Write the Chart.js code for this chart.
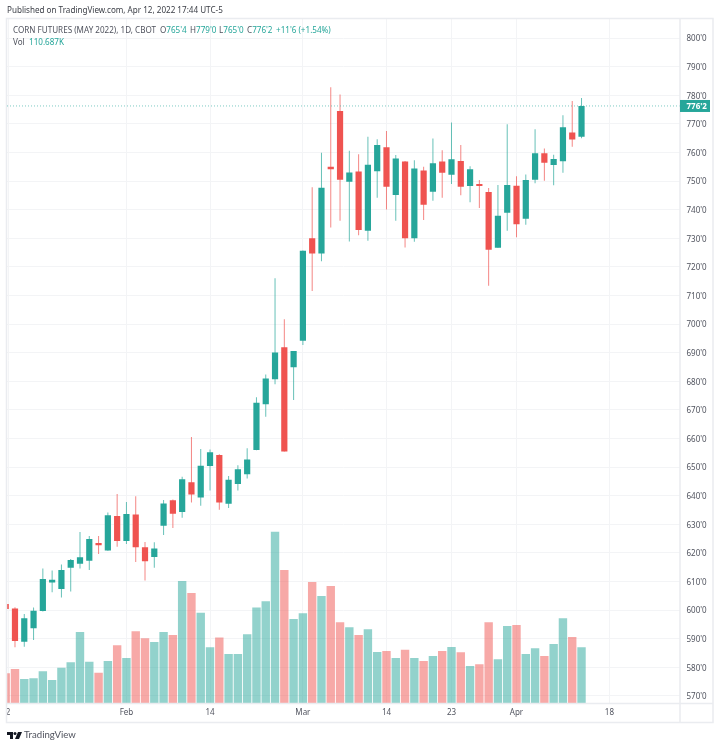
<!DOCTYPE html>
<html>
<head>
<meta charset="utf-8">
<title>Corn Futures (May 2022)</title>
<script src="https://cdn.jsdelivr.net/npm/chart.js@4/dist/chart.umd.min.js"></script>
<style>
    html, body { margin: 0; padding: 0; background: #fff; }
    body { width: 720px; height: 747px; position: relative; overflow: hidden; font-family: "Noto Sans", sans-serif; color: #50535e; }
    canvas { position: absolute; left: 0; top: 0; }
    .txt { position: absolute; white-space: nowrap; font-size: 8.1px; line-height: 12px; }
    .up { color: #26a69a; }
</style>
</head>
<body>
<canvas id="chart" width="720" height="747"></canvas>
<div class="txt" style="left:7px;top:4px;color:#3d4048">Published on TradingView.com, Apr 12, 2022 17:44 UTC-5</div>
<div class="txt" style="left:13px;top:24px">CORN FUTURES (MAY 2022), 1D, CBOT</div>
<div class="txt" style="left:160px;top:24px">O<span class="up" id="lastO"></span></div>
<div class="txt" style="left:190px;top:24px">H<span class="up" id="lastH"></span></div>
<div class="txt" style="left:219px;top:24px">L<span class="up" id="lastL"></span></div>
<div class="txt" style="left:247px;top:24px">C<span class="up" id="lastC"></span></div>
<div class="txt up" style="left:276px;top:24px">+11'6 (+1.54%)</div>
<div class="txt" style="left:13px;top:36px">Vol</div>
<div class="txt up" style="left:29px;top:36px">110.687K</div>
<svg style="position:absolute;left:7px;top:732px" width="15" height="7" viewBox="0 0 15 7">
    <path d="M0 0H6V7H3V3H0Z M11 0H15L12 7H8Z" fill="#131722"/>
    <circle cx="8" cy="1.6" r="1.5" fill="#131722"/>
</svg>
<div class="txt" style="left:24px;top:729px;font-family:Lato,sans-serif;font-size:9.6px;color:#50535e">TradingView</div>

<script>
// DATA
// -----------------------------------------------------------------------------
var opens = [602.2, 600.6, 589, 593.7, 599.7, 609.7, 607.4, 614.8, 616.2, 617.3, 623.5,
    620.9, 632.9, 624.2, 633.4, 622, 618.6, 629.5, 638.4, 634.3, 644.7, 639.4,
    650.4, 654.2, 637.2, 644.1, 647.5, 656, 672, 680.7, 691.9, 684.9, 694.2,
    730, 724.7, 755, 774.5, 749.8, 753.3, 732.6, 753.4, 761.8, 745.1, 756.8,
    730, 753.7, 746.3, 756.8, 752.2, 757, 748.3, 749, 746.2, 726.7, 738.9,
    748.4, 736.8, 750.5, 759.7, 755.6, 756.9, 767, 765.5];
var highs = [602.6, 601, 598.7, 600.9, 614.6, 613.9, 616, 617.9, 627.3, 625.9, 625.9,
    634.1, 640.6, 637.8, 639.8, 623.8, 623.7, 638.5, 638.7, 646.6, 660.5, 656.3,
    656.2, 654.5, 646.9, 650.7, 656.6, 674.4, 682.4, 716, 701.7, 690.6, 725.7,
    747.8, 759.9, 782.8, 780.3, 760.6, 759.4, 765.5, 764.6, 767.5, 759.1, 757,
    757.3, 755, 764.9, 760.8, 770.5, 762.6, 755.2, 750.4, 747.6, 748.6, 769.9,
    751.7, 752.3, 768.1, 761.4, 759.2, 773, 778, 779];
var lows = [600.2, 587, 587.2, 589.6, 599.5, 606.3, 604.4, 606.5, 614.6, 614, 619.6,
    620.8, 622.2, 623.1, 616.8, 610.4, 614.8, 626.3, 628.7, 632.3, 637.6, 636.5,
    641.8, 635.1, 635.7, 641.8, 646, 655.9, 667.6, 679, 655.5, 673.5, 692.7,
    711.6, 722, 733.8, 736.1, 728.9, 731.1, 729.1, 744.2, 740.1, 736.1, 726.8,
    728.8, 736.4, 743.1, 744.2, 749, 745, 742.6, 740.6, 713.4, 726.7, 732.6,
    730.4, 734.7, 749.2, 750.1, 748.5, 752.9, 762, 765];
var closes = [600.4, 589.2, 597.2, 599.8, 610.9, 610.6, 614, 617.5, 618.5, 624.9, 622.7,
    633.2, 624.2, 633.6, 622, 617.1, 621.6, 637.3, 633.7, 645.8, 640.4, 650.5,
    655.2, 637.6, 645.6, 649.3, 652.7, 672.5, 681, 690.1, 655.5, 690.6, 725.6,
    724.7, 747.7, 754.1, 750.5, 753, 732.9, 755.7, 762.6, 748, 757.9, 730,
    754.4, 741.7, 756.2, 752.9, 757.6, 748, 754.1, 748.3, 726, 737.9, 748.6,
    734.9, 750.4, 759.7, 756.4, 757.7, 768.8, 764.5, 776.25];
// thousands of contracts
var volumes = [59, 67.6, 47.7, 49.1, 63, 45.7, 70.1, 80.9, 141.1, 82.1, 60.2,
    83.5, 114.6, 89.4, 142.5, 128.6, 121.2, 141.1, 135.1, 242.4, 218.6, 179.4,
    110.7, 129.8, 97.4, 97.4, 136.5, 189.4, 202.1, 339.8, 264.3, 166.9, 178.2,
    240.4, 212.6, 232.5, 160.4, 150.4, 135.1, 146.4, 101.3, 103.3, 89.4, 105.9,
    89.4, 83.5, 93.4, 103.3, 111.3, 100.7, 73.5, 76.9, 160.4, 86.8, 153,
    155, 97.4, 108.7, 93.4, 117.2, 168.3, 131.1, 110.687];

var priceTicks = [570, 580, 590, 600, 610, 620, 630, 640, 650, 660, 670, 680,
    690, 700, 710, 720, 730, 740, 750, 760, 770, 780, 790, 800];
var dateTickBars = [0.25, 13, 22, 32, 41, 48, 55, 65];
var dateTickLabels = ['2', 'Feb', '14', 'Mar', '14', '23', 'Apr', '18'];

// HELPERS
// -----------------------------------------------------------------------------
var GREEN = '#26a69a', RED = '#ef5350';
var GREEN_SOFT = 'rgba(38,166,154,0.5)', RED_SOFT = 'rgba(239,83,80,0.5)';
var GREEN_WICK = 'rgba(38,166,154,0.7)', RED_WICK = 'rgba(239,83,80,0.7)';
var GRID = '#f3f4f6', FRAME = '#eaecf0', TEXT = '#50535e';
var FONT = '"Noto Sans", sans-serif';

// CBOT quotes grain in eighths of a cent: 776.25 -> 776'2
function fmtPrice(v) {
    var whole = Math.floor(v);
    return whole + "'" + Math.round((v - whole) * 8);
}

function isUp(i) { return closes[i] >= opens[i]; }
function pick(a, b) { return closes.map(function(c, i) { return isUp(i) ? a : b; }); }
function points(fn) { return closes.map(function(c, i) { return { x: i, y: fn(i) }; }); }

var last = closes.length - 1;
document.getElementById('lastO').textContent = fmtPrice(opens[last]);
document.getElementById('lastH').textContent = fmtPrice(highs[last]);
document.getElementById('lastL').textContent = fmtPrice(lows[last]);
document.getElementById('lastC').textContent = fmtPrice(closes[last]);

// pane frame + last price line and its tag on the axis
var framePlugin = {
    id: 'frame',
    afterDatasetsDraw: function(chart) {
        var ctx = chart.ctx, a = chart.chartArea;
        var yScale = chart.scales.y, xScale = chart.scales.x;
        var py = yScale.getPixelForValue(closes[last]);

        ctx.save();
        ctx.strokeStyle = FRAME;
        ctx.lineWidth = 1.5;
        ctx.beginPath();
        ctx.rect(a.left - 0.5, a.top + 0.5, yScale.right - a.left + 0.5, xScale.bottom - a.top);
        ctx.moveTo(a.right + 0.5, a.top);
        ctx.lineTo(a.right + 0.5, xScale.bottom);
        ctx.moveTo(a.left, a.bottom + 0.5);
        ctx.lineTo(yScale.right, a.bottom + 0.5);
        ctx.stroke();

        ctx.lineWidth = 1;
        ctx.strokeStyle = 'rgba(38,166,154,0.6)';
        ctx.setLineDash([1, 2]);
        ctx.beginPath();
        ctx.moveTo(a.left, py);
        ctx.lineTo(a.right, py);
        ctx.stroke();
        ctx.setLineDash([]);

        ctx.fillStyle = GREEN;
        ctx.fillRect(a.right + 0.5, py - 6, 30, 12);
        ctx.fillStyle = '#fff';
        ctx.font = 'bold 8px ' + FONT;
        ctx.textBaseline = 'middle';
        ctx.fillText(fmtPrice(closes[last]), a.right + 7, py + 0.5);
        ctx.restore();
    }
};

// CHART
// -----------------------------------------------------------------------------
new Chart(document.getElementById('chart'), {
    type: 'bar',
    data: {
        datasets: [{
            label: 'Volume',
            yAxisID: 'yVol',
            order: 3,
            data: points(function(i) { return volumes[i]; }),
            backgroundColor: pick(GREEN_SOFT, RED_SOFT),
            barThickness: 8.4
        }, {
            label: 'Wick',
            order: 2,
            data: points(function(i) { return [lows[i], highs[i]]; }),
            backgroundColor: pick(GREEN_WICK, RED_WICK),
            barThickness: 1
        }, {
            label: 'Body',
            order: 1,
            data: points(function(i) { return [opens[i], closes[i]]; }),
            backgroundColor: pick(GREEN, RED),
            barThickness: 6.2
        }]
    },
    options: {
        responsive: false,
        animation: false,
        layout: { padding: { left: 7, top: 18, right: 7, bottom: 25 } },
        datasets: { bar: { grouped: false, borderWidth: 0, inflateAmount: 0 } },
        plugins: { legend: { display: false }, tooltip: { enabled: false } },
        scales: {
            x: {
                type: 'linear',
                offset: false,
                min: 0.14,
                max: 72.55,
                afterBuildTicks: function(axis) {
                    axis.ticks = dateTickBars.map(function(v) { return { value: v }; });
                },
                afterFit: function(axis) { axis.height = 19; },
                grid: { color: GRID, drawTicks: false, offset: false },
                border: { display: false },
                ticks: {
                    autoSkip: false,
                    maxRotation: 0,
                    padding: 5,
                    color: TEXT,
                    font: { family: FONT, size: 8 },
                    callback: function(v) { return dateTickLabels[dateTickBars.indexOf(v)]; }
                }
            },
            y: {
                position: 'right',
                min: 567.55,
                max: 807,
                afterBuildTicks: function(axis) {
                    axis.ticks = priceTicks.map(function(v) { return { value: v }; });
                },
                afterFit: function(axis) { axis.width = 33.5; },
                grid: { color: GRID, drawTicks: false },
                border: { display: false },
                ticks: {
                    autoSkip: false,
                    padding: 7,
                    labelOffset: 1,
                    color: TEXT,
                    font: { family: FONT, size: 8 },
                    callback: function(v) { return fmtPrice(v); }
                }
            },
            yVol: {
                display: false,
                min: 0,
                max: 1360
            }
        }
    },
    plugins: [framePlugin]
});
</script>
</body>
</html>
